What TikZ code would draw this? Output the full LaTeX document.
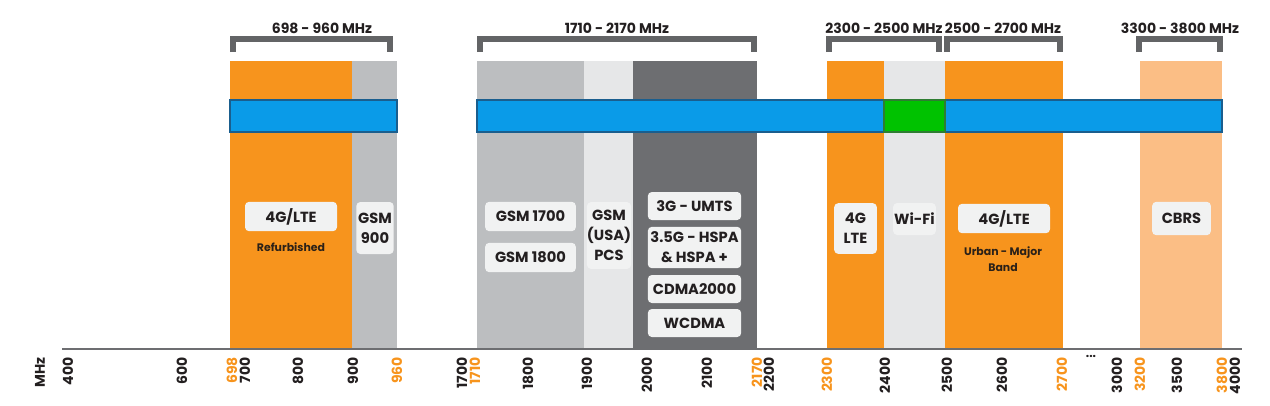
\documentclass[tikz,border=0pt]{standalone}
\usepackage{fontspec}
\setmainfont{Poppins}
\definecolor{orng}{HTML}{F7941D}
\definecolor{gsmgray}{HTML}{BCBEC0}
\definecolor{ltgray}{HTML}{E6E7E8}
\definecolor{dkgray}{HTML}{6D6E71}
\definecolor{ltorng}{HTML}{FBBE85}
\definecolor{blu}{HTML}{0A9BE8}
\definecolor{bluedge}{HTML}{1A5E8E}
\definecolor{grn}{HTML}{00C200}
\definecolor{grnedge}{HTML}{2E7D32}
\definecolor{boxfill}{HTML}{F1F2F2}
\definecolor{brk}{HTML}{636466}
\definecolor{txt}{HTML}{231F20}
\definecolor{brn}{HTML}{2B2118}
\begin{document}
\begin{tikzpicture}[x=0.75pt,y=-0.75pt,
  bar/.style={fill=blu,draw=bluedge,line width=1.5pt},
  gbar/.style={fill=grn,draw=grnedge,line width=1.5pt},
  brkt/.style={draw=brk,line width=4.5pt,line join=miter},
  brktlbl/.style={font=\fontsize{10.5}{12}\selectfont\bfseries,text=txt,anchor=base,inner sep=0pt},
  tagbox/.style={fill=boxfill,rounded corners=3pt,inner sep=0pt,align=center,text=txt,
     font=\fontsize{11}{15}\selectfont\bfseries},
  note/.style={align=center,text=brn,inner sep=0pt,font=\fontsize{8.2}{11.5}\selectfont\bfseries},
  ticklbl/.style={rotate=90,anchor=east,inner sep=0pt,font=\fontsize{10.5}{11}\selectfont\bfseries},
  axisline/.style={draw=dkgray,line width=1.1pt}]
\useasboundingbox (0,0) rectangle (1270,405);
% bands
\fill[orng] (230,61) rectangle (352,349);
\fill[gsmgray] (352,61) rectangle (397,349);
\fill[gsmgray] (477,61) rectangle (584,349);
\fill[ltgray] (584,61) rectangle (633,349);
\fill[dkgray] (633,61) rectangle (757,349);
\fill[orng] (827,61) rectangle (884,349);
\fill[ltgray] (884,61) rectangle (945,349);
\fill[orng] (945,61) rectangle (1063,349);
\fill[ltorng] (1140,61) rectangle (1222,349);
% bars
\draw[bar] (230,100) rectangle (397,132);
\draw[bar] (477,100) rectangle (1222,132);
\draw[gbar] (884,100) rectangle (945,132);
% brackets
\draw[brkt] (233,52) -- (233,39) -- (390,39) -- (390,52);
\draw[brkt] (480,52) -- (480,39) -- (754,39) -- (754,52);
\draw[brkt] (829,52) -- (829,39) -- (939,39) -- (939,52);
\draw[brkt] (947,52) -- (947,39) -- (1060,39) -- (1060,52);
\draw[brkt] (1139,52) -- (1139,39) -- (1220,39) -- (1220,52);
\node[brktlbl] (b1) at (322,33) {698 - 960 MHz};
\node[brktlbl] (b2) at (617,33) {1710 - 2170 MHz};
\node[brktlbl] (b3) at (884,33) {2300 - 2500 MHz};
\node[brktlbl] (b4) at (1003,33) {2500 - 2700 MHz};
\node[brktlbl] (b5) at (1180,33) {3300 - 3800 MHz};
% tag boxes
\node[tagbox,minimum width=69pt,minimum height=22pt] (lte1) at (291,216.5) {4G/LTE};
\node[note] (refurb) at (291,247) {Refurbished};
\node[tagbox,minimum width=28pt,minimum height=39pt] (gsm900) at (375,228) {GSM\\900};
\node[tagbox,minimum width=68pt,minimum height=22pt] (gsm1700) at (530.5,216.5) {GSM 1700};
\node[tagbox,minimum width=68pt,minimum height=22pt] (gsm1800) at (530.5,257.5) {GSM 1800};
\node[tagbox,minimum width=33pt,minimum height=50pt] (pcs) at (609,235.5) {GSM\\(USA)\\PCS};
\node[tagbox,minimum width=70pt,minimum height=21pt] (umts) at (694.5,206) {3G - UMTS};
\node[tagbox,minimum width=70pt,minimum height=31pt] (hspa) at (694.5,247.5) {3.5G - HSPA\\\& HSPA +};
\node[tagbox,minimum width=70pt,minimum height=21pt] (cdma) at (694.5,289) {CDMA2000};
\node[tagbox,minimum width=70pt,minimum height=21pt] (wcdma) at (694.5,323) {WCDMA};
\node[tagbox,minimum width=32pt,minimum height=38pt] (lte2) at (855.5,228.5) {4G\\LTE};
\node[tagbox,minimum width=32pt,minimum height=24pt] (wifi) at (914.5,219) {Wi-Fi};
\node[tagbox,minimum width=69pt,minimum height=22pt] (lte3) at (1004,218.5) {4G/LTE};
\node[note] (urban) at (1003,259) {Urban - Major\\Band};
\node[tagbox,minimum width=44pt,minimum height=25pt] (cbrs) at (1181.5,218.5) {CBRS};
% axis
\coordinate (ax0) at (62,349);
\coordinate (ax1) at (1242,349);
\draw[axisline] (ax0) -- (ax1);
\node[ticklbl,text=txt] (mhz) at (40,357) {MHz};
\foreach \px/\t in {68/400,182/600,245/700,298/800,353/900,462/1700,528/1800,587/1900,647/2000,707/2100,769/2200,885/2400,947/2500,1002/2600,1117/3000,1177/3500,1235/4000}
  \node[ticklbl,text=txt] (t\t) at (\px,357) {\t};
\foreach \px/\t in {232/698,397/960,475/1710,757/2170,827/2300,1062/2700,1140/3200,1222/3800}
  \node[ticklbl,text=orng] (o\t) at (\px,357) {\t};
\node[inner sep=0pt,text=txt,font=\fontsize{9}{10}\selectfont\bfseries] (dots) at (1091,356) {...};
\end{tikzpicture}
\end{document}
